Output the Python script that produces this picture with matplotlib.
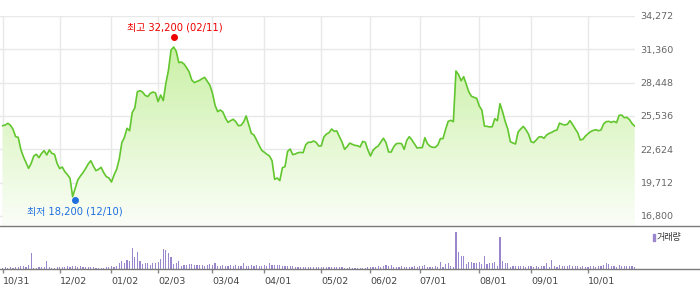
import numpy as np
import matplotlib
matplotlib.use("Agg")
import matplotlib.pyplot as plt
import matplotlib.transforms as mtransforms
from matplotlib.colors import LinearSegmentedColormap
from matplotlib.lines import Line2D
from matplotlib.patches import Rectangle

plt.rcParams['font.family'] = ['DejaVu Sans', 'Noto Sans CJK KR']

# daily close, one value per trading day (10/31 .. late Oct)
price = [
    24690, 24750, 24900, 24720, 24370, 23730, 23670, 22620, 21980, 21460,
    20960, 21400, 22040, 22190, 21900, 22270, 22510, 22130, 22570, 22270,
    22190, 21400, 20940, 21080, 20670, 20410, 20090, 18490, 19220, 19950,
    20290, 20590, 20940, 21340, 21630, 21170, 20760, 20880, 21050, 20590,
    20240, 20120, 19770, 20380, 20880, 21770, 23210, 23670, 24460, 24250,
    25830, 26240, 27660, 27750, 27630, 27340, 27230, 27520, 27630, 27550,
    26790, 27370, 26880, 28390, 29530, 31300, 31560, 31190, 30200, 30250,
    30080, 29760, 29380, 28680, 28450, 28560, 28650, 28800, 28910, 28560,
    28220, 27520, 26470, 25920, 26060, 25890, 25360, 24980, 25130, 25250,
    25040, 24690, 24720, 25010, 25540, 24780, 24020, 23880, 23440, 22970,
    22540, 22360, 22190, 22040, 21630, 20000, 20120, 19890, 21020, 21110,
    22450, 22650, 22160, 22220, 22330, 22360, 22330, 23030, 23240, 23240,
    23350, 23240, 22920, 22920, 23700, 23960, 24080, 24400, 24200, 24230,
    23730, 23270, 22620, 22860, 23170, 23060, 22970, 22940, 22830, 23320,
    23240, 22570, 22040, 22540, 22770, 22920, 23270, 23590, 23210, 22390,
    22390, 22860, 23120, 23150, 23120, 22620, 23410, 23730, 23440, 23090,
    22740, 22770, 22770, 23640, 23120, 22890, 22800, 22800, 23000, 23560,
    23560, 24370, 25070, 25160, 25040, 29470, 29150, 28620, 28970, 28300,
    27630, 27250, 27170, 27080, 26410, 26060, 24660, 24630, 24580, 24600,
    25300, 25130, 26610, 25910, 25070, 24400, 23290, 23180, 23090, 24140,
    24400, 24630, 24340, 23960, 23290, 23210, 23440, 23700, 23730, 23590,
    23880, 24020, 24110, 24250, 24310, 24920, 24810, 24750, 24810, 25130,
    24810, 24430, 24080, 23440, 23500, 23790, 23990, 24170, 24280, 24340,
    24250, 24310, 24840, 25040, 25070, 24980, 25070, 24950, 25590, 25620,
    25390, 25420, 25220, 24870, 24660,
]

volume = [
    50, 60, 50, 60, 50, 70, 70, 100, 100, 80,
    120, 470, 40, 50, 60, 60, 60, 230, 70, 50,
    50, 60, 60, 70, 80, 90, 80, 110, 90, 70,
    110, 60, 60, 60, 60, 60, 50, 50, 50, 50,
    60, 70, 90, 80, 100, 170, 250, 170, 270, 250,
    610, 350, 500, 230, 150, 170, 170, 130, 170, 170,
    200, 300, 580, 570, 470, 350, 150, 170, 250, 110,
    140, 130, 150, 150, 130, 140, 130, 120, 90, 130,
    150, 120, 170, 100, 90, 120, 90, 110, 120, 90,
    130, 100, 110, 170, 110, 100, 120, 90, 130, 100,
    100, 130, 90, 170, 120, 130, 120, 130, 100, 90,
    90, 100, 90, 80, 80, 70, 80, 70, 60, 70,
    60, 80, 70, 60, 70, 70, 60, 80, 60, 70,
    60, 60, 50, 50, 60, 50, 40, 50, 40, 50,
    50, 60, 80, 80, 80, 90, 80, 110, 130, 90,
    140, 80, 70, 80, 90, 80, 70, 80, 80, 90,
    80, 100, 100, 130, 60, 70, 80, 90, 70, 220,
    70, 150, 170, 90, 60, 1100, 500, 400, 400, 150,
    220, 200, 170, 170, 200, 150, 400, 150, 170, 170,
    200, 100, 950, 250, 170, 170, 70, 90, 100, 90,
    90, 100, 80, 100, 90, 80, 100, 80, 90, 100,
    170, 70, 270, 100, 60, 140, 90, 100, 100, 140,
    100, 90, 100, 80, 90, 70, 80, 90, 100, 80,
    100, 90, 130, 170, 160, 110, 100, 80, 120, 110,
    110, 100, 90, 90, 60,
]

tick_days = [0, 22, 42, 60, 81, 101, 123, 142, 161, 184, 204, 226]
tick_labels = ['10/31', '12/02', '01/02', '02/03', '03/04', '04/01',
               '05/02', '06/02', '07/01', '08/01', '09/01', '10/01']
y_ticks = [16800, 19712, 22624, 25536, 28448, 31360, 34272]

high_day, high_price, high_date = 66, 32200, '02/11'
low_day, low_price, low_date = 28, 18200, '12/10'

W, H = 700, 289
fig = plt.figure(figsize=(W / 100, H / 100), dpi=100)

x = np.arange(len(price))
xmin, xmax = -1.04, 244.13
ybot, ytop = 15926, 34272

# ---- price panel
ax = fig.add_axes([0, 1 - 226 / H, 635 / W, 210 / H])
ax.set_xlim(xmin, xmax)
ax.set_ylim(ybot, ytop)

cmap = LinearSegmentedColormap.from_list('g', ['#fbfef8', '#c2ee98'])
grad = np.linspace(0, 1, 256).reshape(-1, 1)
img = ax.imshow(grad, cmap=cmap, origin='lower', aspect='auto',
                extent=[xmin, xmax, ybot, ytop], zorder=1)
poly = ax.fill_between(x, price, ybot, facecolor='none', edgecolor='none')
img.set_clip_path(poly.get_paths()[0], transform=ax.transData)
ax.plot(x, price, color='#62c62e', lw=1.2, zorder=3)

ax.set_xticks(tick_days)
ax.set_yticks(y_ticks)
ax.set_yticklabels([f'{v:,}' for v in y_ticks])
ax.yaxis.tick_right()
ax.tick_params(axis='x', length=0, labelbottom=False)
ax.tick_params(axis='y', length=0, pad=4, labelsize=6.8, labelcolor='#666666')
ax.grid(color='#e8e8e8', lw=1, zorder=0)
ax.set_axisbelow(True)
for s in ax.spines.values():
    s.set_visible(False)

# high / low marks
up = mtransforms.ScaledTranslation(0, 2.5 / 100, fig.dpi_scale_trans)
ax.plot(high_day, high_price, 'o', color='#ee0000', ms=4, clip_on=False,
        transform=ax.transData + up, zorder=5)
ax.annotate(f'최고 {high_price:,} ({high_date})', (high_day, high_price),
            xytext=(1, 9), textcoords='offset points', ha='center', va='center',
            color='#ee0000', fontsize=7.2, annotation_clip=False)
ax.plot(low_day, low_price, 'o', color='#1f6fe0', ms=4, clip_on=False, zorder=5)
ax.annotate(f'최저 {low_price:,} ({low_date})', (low_day, low_price),
            xytext=(0, -8), textcoords='offset points', ha='center', va='center',
            color='#1f6fe0', fontsize=7.2, annotation_clip=False)

# ---- volume panel
ax2 = fig.add_axes([0, 1 - 269.3 / H, 635 / W, 41.3 / H])
ax2.set_xlim(xmin, xmax)
ax2.set_ylim(0, 1208)
vol_color = '#9a86cc'
ax2.bar(x, volume, width=0.45, color=vol_color, linewidth=0)
ax2.set_yticks([])
ax2.set_xticks(tick_days)
ax2.set_xticklabels(tick_labels)
plt.setp(ax2.get_xticklabels(), ha='left')
ax2.tick_params(axis='x', length=3, color='#888888', width=1, pad=2,
                labelsize=6.8, labelcolor='#444444')
for s in ax2.spines.values():
    s.set_visible(False)

# panel borders run across the full width
for yy in (226, 269.3):
    fig.add_artist(Line2D([0, 1], [1 - yy / H, 1 - yy / H], color='#7a7a7a',
                          lw=1, transform=fig.transFigure))

# volume legend
fig.patches.append(Rectangle((653 / W, 1 - 241.3 / H), 2 / W, 7.3 / H,
                             transform=fig.transFigure, color=vol_color))
fig.text(657 / W, 1 - 237.8 / H, '거래량', fontsize=6.5, color='#333333',
         va='center', ha='left')

fig.savefig('out.png', dpi=100)
